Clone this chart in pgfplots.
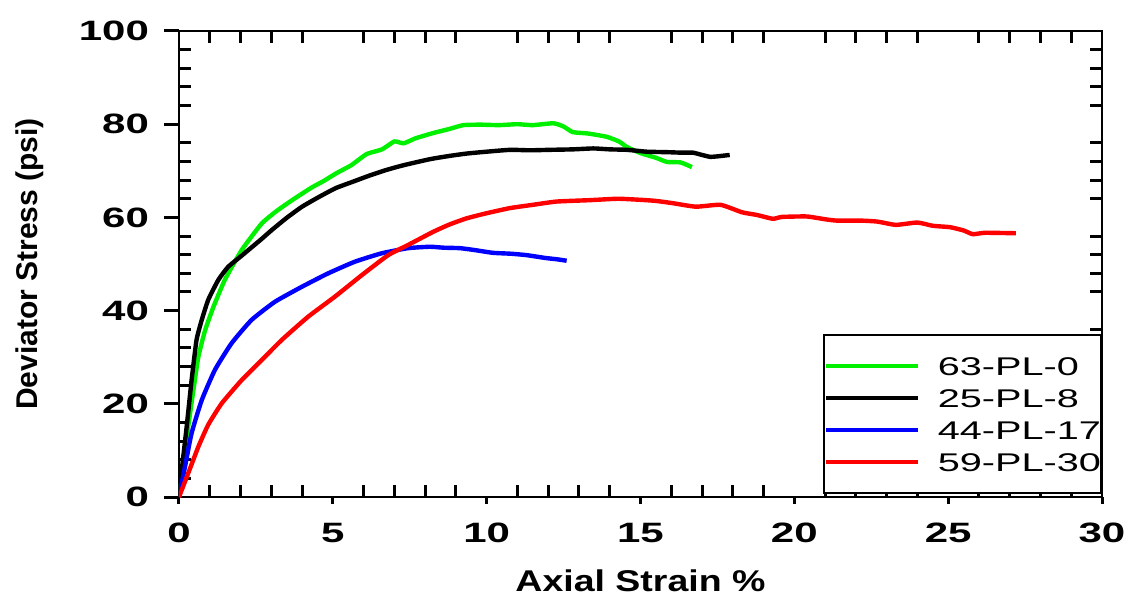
\documentclass[border=0pt]{standalone}
\usepackage{fontspec}
\usepackage{pgfplots}
\pgfplotsset{compat=1.18}
\setmainfont{Liberation Sans}
\newfontfamily\tickfont{Liberation Sans}[FakeStretch=1.5]
\newfontfamily\labfont{Liberation Sans}[FakeStretch=1.25]
\newfontfamily\legfont{Liberation Sans}[FakeStretch=1.55]
\definecolor{cgreen}{RGB}{0,240,0}
\definecolor{cblue}{RGB}{0,0,255}
\definecolor{cred}{RGB}{255,0,0}
\begin{document}
\begin{tikzpicture}
% overlay axis for inward minor ticks
\begin{axis}[at={(0,0)},anchor=south west,
  width=461.5pt,height=233pt,scale only axis,
  xmin=0,xmax=30,ymin=0,ymax=100,
  xtick={0,5,...,30},ytick={0,20,...,100},
  minor x tick num=4,minor y tick num=4,
  xticklabels={},yticklabels={},
  tick align=inside,major tick length=0pt,minor tick length=6pt,
  minor tick style={line width=1.5pt,black},
  axis line style={line width=1pt}]
\end{axis}
\begin{axis}[at={(0,0)},anchor=south west,
  width=461.5pt,height=233pt,scale only axis,
  xmin=0,xmax=30,ymin=0,ymax=100,
  xtick={0,5,...,30},ytick={0,20,...,100},
  minor tick num=0,
  tick align=outside,tick pos=left,
  major tick length=7.5pt,
  xtick style={/pgfplots/major tick length=3.5pt},
  tick style={line width=1.5pt,black},
  axis line style={line width=1pt},
  /pgf/number format/assume math mode=true,
  ticklabel style={font=\tickfont\bfseries\fontsize{14}{14}\selectfont},
  yticklabel style={xshift=-4pt},
  xticklabel style={yshift=-2pt},
  xlabel={Axial Strain \%},
  ylabel={Deviator Stress (psi)},
  xlabel style={font=\labfont\bfseries\fontsize{15}{15}\selectfont,
    at={(axis description cs:0.5,0)},anchor=base,yshift=-47pt},
  ylabel style={font=\bfseries\fontsize{15}{15}\selectfont,
    at={(axis description cs:0,0.5)},anchor=base,yshift=70.5pt},
  legend style={at={(1,0)},anchor=south east,yshift=1.5pt,
    draw=black,line width=1pt,fill=white,
    font=\legfont\fontsize{12.8}{12.8}\selectfont,
    inner xsep=0pt,inner ysep=7.5pt,
    row sep=0pt,
    nodes={inner sep=0pt,text height=12.6pt,text depth=3.4pt},
    /tikz/every odd column/.append style={column sep=9pt},
  },
  legend cell align=left,
  legend image code/.code={\draw[#1,line width=2pt] (9.5pt,0pt) -- (55.5pt,0pt);},
  every axis plot/.append style={line width=2.2pt,smooth,tension=0.3},
]
\addplot[cgreen] coordinates {(0,0) (0.14,5.8) (0.3,15.1) (0.47,23) (0.63,30.1) (0.85,35.8) (1.12,40.8) (1.49,46.6) (2.04,53) (2.69,58.7) (3.2,61.5) (3.7,63.8) (4.31,66.4) (4.7,67.8) (5.12,69.5) (5.6,71.2) (6.1,73.6) (6.6,74.6) (7.0,76.3) (7.3,75.9) (7.7,77) (8.26,78.1) (8.8,79) (9.24,79.8) (9.8,79.9) (10.4,79.8) (11,80) (11.5,79.8) (12.17,80.2) (12.5,79.5) (12.8,78.3) (13.3,78) (13.9,77.3) (14.3,76.3) (14.56,75.1) (15.0,73.8) (15.5,72.8) (15.86,71.9) (16.3,71.8) (16.67,70.8)};
\addlegendentry{63-PL-0}
\addplot[black] coordinates {(0,0) (0.09,5.8) (0.25,15.1) (0.41,25.1) (0.57,33.7) (0.74,38) (0.95,42.3) (1.28,46.6) (1.6,49.4) (2.04,51.8) (2.69,55.4) (3.0,57.2) (3.5,59.9) (4.0,62.3) (4.58,64.5) (5.1,66.3) (5.67,67.7) (6.2,69) (6.75,70.2) (7.3,71.2) (8.16,72.5) (8.8,73.2) (9.35,73.7) (10.0,74.1) (10.76,74.5) (11.4,74.4) (12.06,74.5) (12.8,74.6) (13.47,74.8) (14.0,74.6) (14.56,74.5) (15.2,74.1) (15.86,74) (16.3,73.9) (16.7,73.9) (17.0,73.4) (17.26,73) (17.5,73.1) (17.9,73.4)};
\addlegendentry{25-PL-8}
\addplot[cblue] coordinates {(0,0) (0.195,6.5) (0.41,13.7) (0.74,20.8) (1.17,27.3) (1.71,33) (2.36,38) (3.12,41.9) (3.99,45.1) (4.85,48) (5.72,50.5) (6.59,52.3) (7.45,53.4) (8.16,53.7) (8.6,53.5) (9.13,53.4) (9.6,53) (10.2,52.4) (10.8,52.2) (11.3,51.9) (11.9,51.3) (12.3,51) (12.6,50.7)};
\addlegendentry{44-PL-17}
\addplot[cred] coordinates {(0,0) (0.3,5.1) (0.63,10.8) (0.95,15.5) (1.39,20.1) (2.04,25.1) (2.69,29.4) (3.34,33.7) (4.2,38.7) (5.07,43) (5.94,47.6) (6.8,51.9) (7.45,54.1) (8.26,56.9) (8.8,58.5) (9.35,59.8) (10.0,60.9) (10.76,62) (11.5,62.7) (12.27,63.4) (13.36,63.7) (14.3,64) (15.4,63.6) (16.0,63.1) (16.8,62.3) (17.6,62.7) (18.3,61.1) (18.8,60.5) (19.3,59.7) (19.6,60.1) (20.4,60.2) (21.0,59.6) (21.4,59.3) (22.2,59.3) (22.7,59.1) (23.3,58.4) (24.0,58.9) (24.5,58.2) (25.06,57.9) (25.5,57.2) (25.8,56.4) (26.2,56.7) (27.2,56.6)};
\addlegendentry{59-PL-30}
\end{axis}
\pgfresetboundingbox
\path[use as bounding box] (-89.5pt,-49pt) rectangle (473pt,248.5pt);
\end{tikzpicture}
\end{document}
